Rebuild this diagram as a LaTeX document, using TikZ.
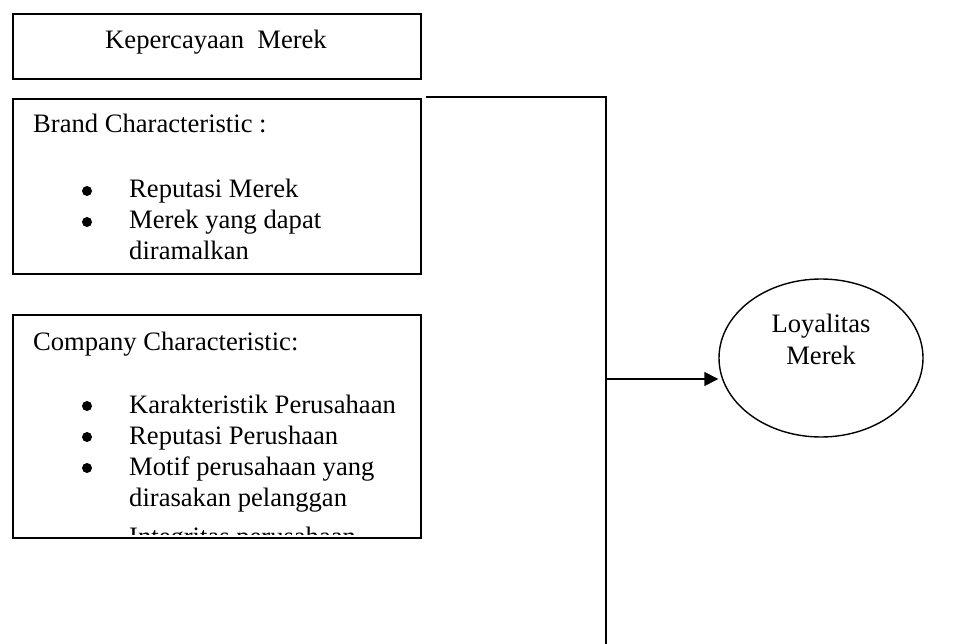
\documentclass[tikz,border=0pt]{standalone}
\usepackage{fontspec}
\setmainfont{Liberation Serif}
\usetikzlibrary{shapes.geometric,arrows.meta}
\begin{document}
\begin{tikzpicture}[x=1pt,y=-1pt,
  font=\fontsize{26.6}{31}\selectfont,
  box/.style={draw,line width=1.8pt,rectangle,inner sep=0pt,anchor=north west},
  txt/.style={anchor=base west,inner sep=0pt},
  bul/.style={circle,fill,inner sep=0pt,minimum size=10pt},
  conn/.style={line width=1.6pt}]
\useasboundingbox (0,0) rectangle (969,644);
% boxes
\node[box,minimum width=408pt,minimum height=65pt] (kep) at (12,13) {};
\node[box,minimum width=408pt,minimum height=175pt] (brand) at (12,98) {};
\node[box,minimum width=408pt,minimum height=223pt] (comp) at (12,314) {};
% title
\node[anchor=base,inner sep=0pt] (kept) at (216,49) {Kepercayaan\ \ Merek};
% brand box text
\node[txt] (bh) at (33,133) {Brand Characteristic :};
\node[bul] (bb1) at (87,191) {};
\node[bul] (bb2) at (87,222) {};
\node[txt] (bt1) at (129,198) {Reputasi Merek};
\node[txt] (bt2) at (129,229) {Merek yang dapat};
\node[txt] (bt3) at (129,260) {diramalkan};
% company box text
\node[txt] (ch) at (33,350) {Company Characteristic:};
\node[bul] (cb1) at (87,406) {};
\node[bul] (cb2) at (87,437) {};
\node[bul] (cb3) at (87,468) {};
\node[txt] (ct1) at (129,413) {Karakteristik Perusahaan};
\node[txt] (ct2) at (129,444) {Reputasi Perushaan};
\node[txt] (ct3) at (129,475) {Motif perusahaan yang};
\node[txt] (ct4) at (129,506) {dirasakan pelanggan};
\begin{scope}
  \clip (13,315) rectangle (419,534);
  \node[txt] (ct5) at (129,545) {Integritas perusahaan};
\end{scope}
% ellipse
\node[draw,ellipse,line width=1.4pt,minimum width=204pt,minimum height=158pt,inner sep=0pt] (loy) at (821,358) {};
\node[anchor=base,inner sep=0pt] (loyt1) at (821,332) {Loyalitas};
\node[anchor=base,inner sep=0pt] (loyt2) at (821,364) {Merek};
% connectors
\coordinate (topL) at (426,97);
\coordinate (topR) at (606,97);
\coordinate (botR) at (606,644);
\coordinate (junc) at (606,379);
\draw[conn] (topL) -- (topR) -- (botR);
\draw[conn,-{Triangle[length=14pt,width=14pt]}] (junc) -- (junc -| loy.west);
\end{tikzpicture}
\end{document}
